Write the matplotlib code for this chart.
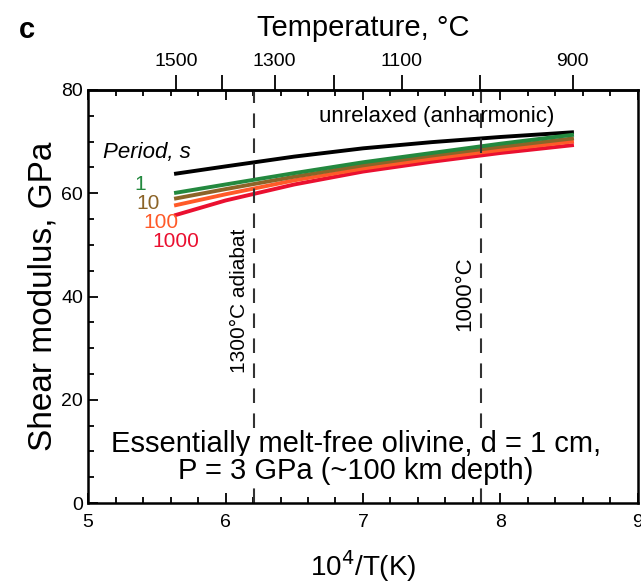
import numpy as np
import matplotlib.pyplot as plt
from matplotlib.ticker import MultipleLocator

plt.rcParams['font.family'] = ['Liberation Sans', 'DejaVu Sans']

# 10^4/T (K) sample points, 1500 C down to 900 C
inv_T = [5.64, 6.0, 6.5, 7.0, 7.5, 8.0, 8.52]
unrelaxed = [63.8, 65.2, 67.1, 68.7, 69.9, 70.9, 71.8]
g_1s = [60.1, 61.7, 63.9, 66.0, 67.8, 69.6, 71.3]
g_10s = [59.0, 60.8, 63.2, 65.4, 67.3, 69.0, 70.6]
g_100s = [57.7, 59.8, 62.5, 64.8, 66.7, 68.4, 70.0]
g_1000s = [55.8, 58.6, 61.7, 64.2, 66.1, 67.8, 69.3]

periods = ['1', '10', '100', '1000']
period_colors = ['#23893f', '#8c6428', '#ff5a28', '#ea1030']
series = [g_1s, g_10s, g_100s, g_1000s]

ref_lines = [6.21, 7.855]
ref_labels = ['1300°C adiabat', '1000°C']
top_ticks = [1500, 1400, 1300, 1200, 1100, 1000, 900]
top_labels = ['1500', '', '1300', '', '1100', '', '900']

fig = plt.figure(figsize=(6.41, 5.87), dpi=100)
ax = fig.add_axes([0.1373, 0.143, 0.858, 0.7037])

ax.plot(inv_T, unrelaxed, color='black', lw=2.8)
for ys, c in zip(series[::-1], period_colors[::-1]):
    ax.plot(inv_T, ys, color=c, lw=2.8)

for xv in ref_lines:
    ax.axvline(xv, color='#333333', lw=1.5, dashes=(7, 5))

ax.set_xlim(5, 9)
ax.set_ylim(0, 80)
ax.xaxis.set_major_locator(MultipleLocator(1))
ax.xaxis.set_minor_locator(MultipleLocator(0.2))
ax.yaxis.set_major_locator(MultipleLocator(20))
ax.yaxis.set_minor_locator(MultipleLocator(5))
ax.tick_params(which='both', direction='in', top=True, labelsize=14, width=1.3)
ax.tick_params(which='major', length=7)
ax.tick_params(which='minor', length=4)
ax.tick_params(axis='x', pad=8)
for s in ax.spines.values():
    s.set_linewidth(1.8)

ax.set_xlabel('10$^4$/T(K)', fontsize=20, labelpad=12)
ax.set_ylabel('Shear modulus, GPa', fontsize=24, labelpad=2)


def x_to_T(x):
    x = np.asarray(x, dtype=float)
    return 1e4 / np.where(x == 0, 1e-9, x) - 273.15


def T_to_x(T):
    T = np.asarray(T, dtype=float)
    return 1e4 / (T + 273.15)


sec = ax.secondary_xaxis('top', functions=(x_to_T, T_to_x))
sec.set_xticks(top_ticks)
sec.set_xticklabels(top_labels)
sec.tick_params(direction='out', length=11, width=1.3, labelsize=14)
sec.spines['top'].set_linewidth(1.8)
sec.set_xlabel('Temperature, °C', fontsize=21, labelpad=12)

# annotations
ax.text(5.11, 67.8, 'Period, s', fontsize=16, style='italic', va='center')
ax.text(6.68, 74.8, 'unrelaxed (anharmonic)', fontsize=16, va='center')
label_pos = [(5.34, 61.6), (5.35, 58.1), (5.40, 54.4), (5.47, 50.6)]
for lab, c, (xp, yp) in zip(periods, period_colors, label_pos):
    ax.text(xp, yp, lab, color=c, fontsize=15, ha='left', va='center')

ax.text(ref_lines[0] - 0.04, 39.1, ref_labels[0], rotation=90, fontsize=15,
        ha='right', va='center')
ax.text(ref_lines[1] - 0.04, 40.5, ref_labels[1], rotation=90, fontsize=16,
        ha='right', va='center')

box = dict(facecolor='white', edgecolor='none', pad=1)
ax.text(6.95, 11.4, 'Essentially melt-free olivine, d = 1 cm,', fontsize=21,
        ha='center', va='center', bbox=box)
ax.text(6.95, 6.2, 'P = 3 GPa (~100 km depth)', fontsize=21,
        ha='center', va='center', bbox=box)

fig.text(0.03, 0.935, 'c', fontsize=21, fontweight='bold')

fig.savefig('out.png', dpi=100)
